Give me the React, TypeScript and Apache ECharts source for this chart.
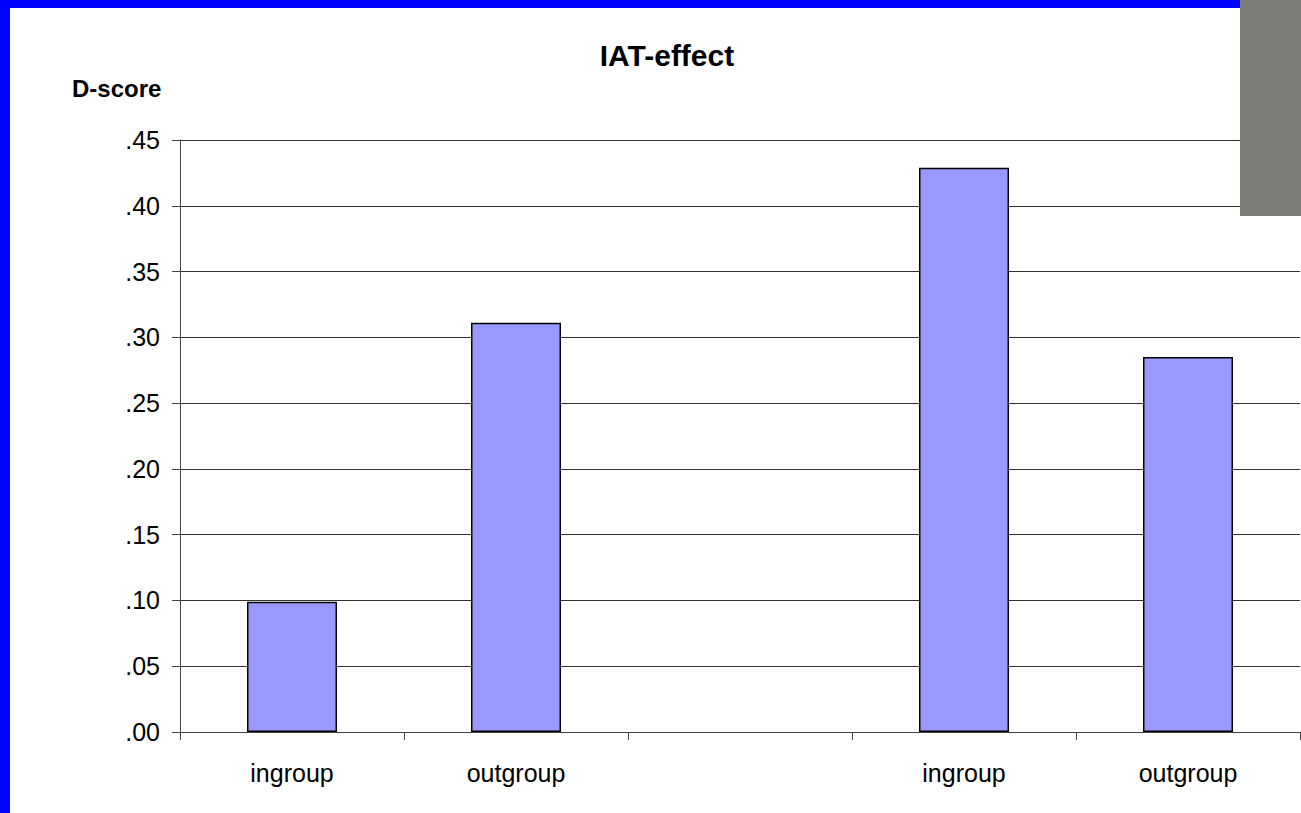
import React, { useEffect, useRef } from "react";
import * as echarts from "echarts";

const categories = ["ingroup", "outgroup", "", "ingroup", "outgroup"];
const dScores: (number | null)[] = [0.099, 0.311, null, 0.429, 0.285];
const yTicks = [0, 0.05, 0.1, 0.15, 0.2, 0.25, 0.3, 0.35, 0.4, 0.45];

export default function App() {
  const ref = useRef<HTMLDivElement>(null);
  useEffect(() => {
    if (!ref.current) return;
    const chart = echarts.init(ref.current, undefined, { renderer: "svg" });
    const font = "'Liberation Sans', Arial, sans-serif";
    chart.setOption({
      animation: false,
      backgroundColor: "#ffffff",
      title: {
        text: "IAT-effect",
        left: 662,
        textAlign: "center",
        top: 35,
        textStyle: { fontFamily: font, fontWeight: "bold", fontSize: 30, color: "#000" },
      },
      grid: { left: 180, right: 1, top: 140, bottom: 81, containLabel: false },
      xAxis: {
        type: "category",
        data: categories,
        axisLine: { lineStyle: { color: "#444", width: 1 } },
        axisTick: { show: true, length: 8, lineStyle: { color: "#444" } },
        axisLabel: { fontFamily: font, fontSize: 25, color: "#000", margin: 28 },
      },
      yAxis: {
        type: "value",
        min: 0,
        max: 0.45,
        interval: 0.05,
        axisLine: { show: true, lineStyle: { color: "#444", width: 1 } },
        axisTick: { show: true, length: 8, lineStyle: { color: "#444" } },
        splitLine: { show: true, lineStyle: { color: "#333", width: 1 } },
        axisLabel: {
          fontFamily: font,
          fontSize: 25,
          color: "#000",
          margin: 20,
          formatter: (v: number) => {
            const t = yTicks.find((x) => Math.abs(x - v) < 1e-9);
            return (t ?? v).toFixed(2).replace(/^0/, "");
          },
        },
      },
      series: [
        {
          type: "bar",
          data: dScores,
          barWidth: 90,
          itemStyle: { color: "#9999ff", borderColor: "#000", borderWidth: 1.5 },
        },
      ],
      graphic: [
        { type: "rect", shape: { x: 0, y: 0, width: 10, height: 813 }, style: { fill: "#0000ff" }, z: 100 },
        { type: "rect", shape: { x: 0, y: 0, width: 1240, height: 8 }, style: { fill: "#0000ff" }, z: 100 },
        { type: "rect", shape: { x: 1240, y: 0, width: 61, height: 216 }, style: { fill: "#7b7f78" }, z: 100 },
        {
          type: "text",
          x: 72,
          y: 88,
          style: { text: "D-score", font: `bold 24px ${font}`, fill: "#000", verticalAlign: "middle" },
          z: 100,
        },
      ],
    });
    return () => chart.dispose();
  }, []);
  return (
    <div
      ref={ref}
      style={{ position: "fixed", left: 0, top: 0, width: 1301, height: 813 }}
    />
  );
}
